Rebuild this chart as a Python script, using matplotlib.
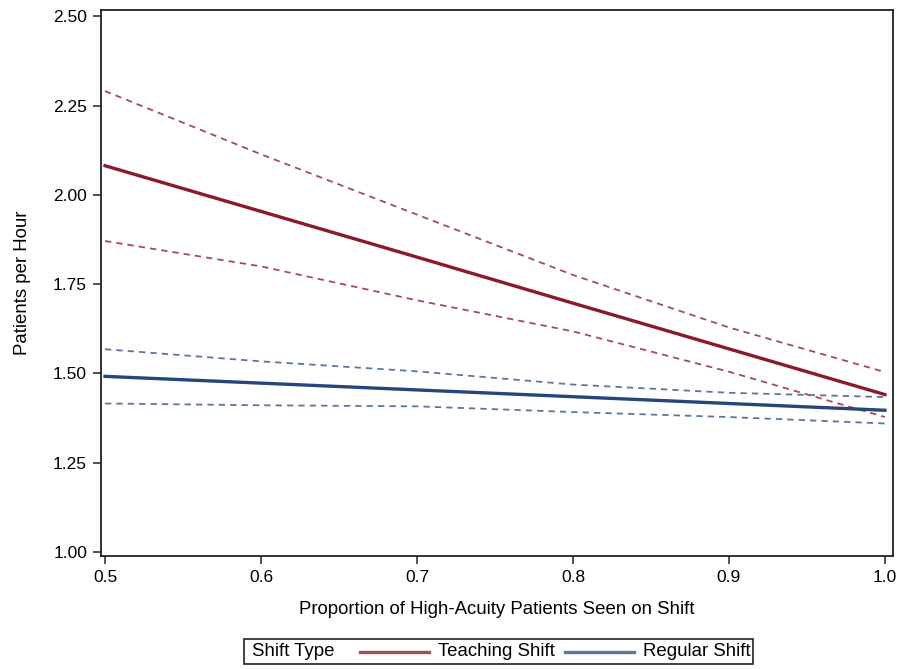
import numpy as np
import matplotlib
matplotlib.use("Agg")
import matplotlib.pyplot as plt
from matplotlib.lines import Line2D
from matplotlib.patches import Rectangle

plt.rcParams['font.family'] = ['Liberation Sans', 'DejaVu Sans']
plt.rcParams['font.size'] = 12.5

# proportion of high-acuity patients
prop = [0.5, 0.6, 0.7, 0.8, 0.9, 1.0]

# teaching shift: fit and confidence limits
teach_fit = [2.082, 1.954, 1.826, 1.697, 1.569, 1.441]
teach_upper = [2.291, 2.114, 1.945, 1.776, 1.629, 1.504]
teach_lower = [1.871, 1.800, 1.705, 1.618, 1.505, 1.378]

# regular shift: fit and confidence limits
reg_fit = [1.492, 1.473, 1.454, 1.435, 1.416, 1.397]
reg_upper = [1.568, 1.534, 1.506, 1.469, 1.446, 1.434]
reg_lower = [1.416, 1.411, 1.408, 1.392, 1.378, 1.360]

xticks = [0.5, 0.6, 0.7, 0.8, 0.9, 1.0]
yticks = [1.00, 1.25, 1.50, 1.75, 2.00, 2.25, 2.50]

red = '#8A1A2A'
red_light = '#A8495A'
blue = '#27467A'
blue_light = '#5A76A0'

fig = plt.figure(figsize=(9.12, 6.69), dpi=100)
ax = fig.add_axes([0.1107, 0.169, 0.8683, 0.816])

dash = (0, (3.5, 2.8))
ax.plot(prop, teach_upper, color=red_light, lw=1.3, linestyle=dash)
ax.plot(prop, teach_lower, color=red_light, lw=1.3, linestyle=dash)
ax.plot(prop, reg_upper, color=blue_light, lw=1.3, linestyle=dash)
ax.plot(prop, reg_lower, color=blue_light, lw=1.3, linestyle=dash)
ax.plot(prop, teach_fit, color=red, lw=2.4)
ax.plot(prop, reg_fit, color=blue, lw=2.4)

ax.set_xlim(0.4974, 1.0051)
ax.set_ylim(0.989, 2.518)
ax.set_xticks(xticks)
ax.set_xticklabels(['%.1f' % v for v in xticks])
ax.set_yticks(yticks)
ax.set_yticklabels(['%.2f' % v for v in yticks])
ax.tick_params(direction='out', length=6, width=1.2, color='#333333', pad=4, labelsize=12.5)
for s in ax.spines.values():
    s.set_linewidth(1.3)
    s.set_color('#222222')

ax.set_xlabel('Proportion of High-Acuity Patients Seen on Shift', labelpad=12, fontsize=13.4)
ax.set_ylabel('Patients per Hour', labelpad=16, fontsize=13.4)

# legend box drawn in figure pixels
W, H = 912, 669
def fx(px):
    return px / W
def fy(py):
    return 1 - py / H

fig.patches.append(Rectangle((fx(244), fy(664)), fx(753) - fx(244), fy(639) - fy(664),
                             transform=fig.transFigure, fill=False, edgecolor='#222222', lw=1.2))
ymid = fy(651.5)
fig.text(fx(252), ymid, 'Shift Type', va='center', ha='left', fontsize=13.4)
fig.lines.append(Line2D([fx(360), fx(429)], [ymid, ymid], transform=fig.transFigure,
                        color=red_light, lw=2.4))
fig.text(fx(438), ymid, 'Teaching Shift', va='center', ha='left', fontsize=13.4)
fig.lines.append(Line2D([fx(565), fx(634)], [ymid, ymid], transform=fig.transFigure,
                        color=blue_light, lw=2.4))
fig.text(fx(643), ymid, 'Regular Shift', va='center', ha='left', fontsize=13.4)

fig.savefig('out.png', dpi=100)
